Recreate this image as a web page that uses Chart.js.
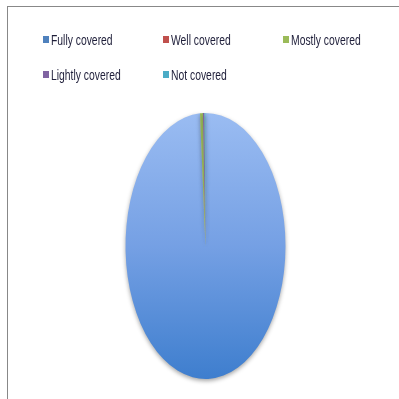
<!DOCTYPE html>
<html>
<head>
<meta charset="utf-8">
<script src="https://cdn.jsdelivr.net/npm/chart.js@4"></script>
<style>
  body { margin: 0; background: #fff; }
  #wrap { position: relative; width: 399px; height: 399px; overflow: hidden; }
  #frameTop { position: absolute; left: 7px; top: 6px; width: 392px; height: 0; border-top: 1px solid #888; }
  #frameLeft { position: absolute; left: 7px; top: 6px; width: 0; height: 393px; border-left: 1px solid #888; }
  #pie { position: absolute; left: 0; top: 0; }
  .lg { position: absolute; font-family: 'Liberation Sans', sans-serif; font-size: 14px; color: #1f1f3a; white-space: nowrap; line-height: 14px; }
  .lg i { position: absolute; left: 0; top: 3px; width: 6px; height: 7px; }
  .lg span { position: absolute; left: 8px; top: 0; transform: scaleX(0.74); transform-origin: 0 0; }
</style>
</head>
<body>
<div id="wrap">
  <div id="frameTop"></div>
  <div id="frameLeft"></div>
  <canvas id="pie" width="399" height="399"></canvas>
</div>
<script>
'use strict';

// categories and shares (percent)
var labels = ['Fully covered', 'Well covered', 'Mostly covered', 'Lightly covered', 'Not covered'];
var values = [98.9, 0, 0.6, 0.3, 0.2];
var colors = ['#4f81bd', '#c0504d', '#9bbb59', '#8064a2', '#4bacc6'];

// legend, laid out like the office grid (3 columns)
var legendPos = [[43, 33], [163, 33], [283, 33], [43, 68], [163, 68]];
var wrap = document.getElementById('wrap');
labels.forEach(function (lab, i) {
    var d = document.createElement('div');
    d.className = 'lg';
    d.style.left = legendPos[i][0] + 'px';
    d.style.top = legendPos[i][1] + 'px';
    d.innerHTML = '<i style="background:' + colors[i] + '"></i>';
    var s = document.createElement('span');
    s.textContent = lab;
    d.appendChild(s);
    wrap.appendChild(d);
});

// squash the round pie into the tall ellipse of the original
var ellipse = {
    id: 'ellipse',
    beforeDatasetsDraw: function (chart) {
        var a = chart.chartArea, ctx = chart.ctx;
        var cx = (a.left + a.right) / 2, cy = (a.top + a.bottom) / 2;
        ctx.save();
        ctx.translate(cx, cy);
        ctx.scale(1, 133 / 80);
        ctx.translate(-cx, -cy);
        ctx.shadowColor = 'rgba(0,0,0,0.35)';
        ctx.shadowBlur = 4;
        ctx.shadowOffsetY = 2;
    },
    afterDatasetsDraw: function (chart) {
        chart.ctx.restore();
    }
};

function fill(c) {
    var i = c.dataIndex;
    if (i !== 0) return colors[i];
    var a = c.chart.chartArea;
    if (!a) return colors[0];
    var cy = (a.top + a.bottom) / 2;
    var g = c.chart.ctx.createLinearGradient(0, cy - 80, 0, cy + 80);
    g.addColorStop(0, '#9abcf2');
    g.addColorStop(0.5, '#75a0e4');
    g.addColorStop(1, '#3e7ece');
    return g;
}

new Chart(document.getElementById('pie'), {
    type: 'pie',
    data: {
        labels: labels,
        datasets: [{
            data: values,
            backgroundColor: fill,
            borderWidth: 0
        }]
    },
    options: {
        responsive: false,
        animation: false,
        layout: { padding: { left: 125.5, right: 113.5, top: 166, bottom: 73 } },
        plugins: { legend: { display: false }, tooltip: { enabled: false } }
    },
    plugins: [ellipse]
});
</script>
</body>
</html>
